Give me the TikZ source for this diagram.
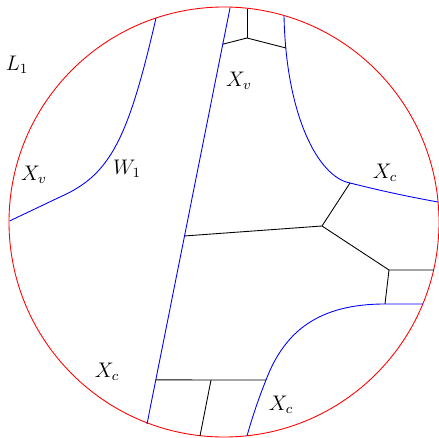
\documentclass[tikz,border=0pt]{standalone}
\usepackage{amsmath}
\usepackage{tikz}
\usetikzlibrary{calc}
\tikzset{
  rim/.style   = {draw=red, line width=0.5pt},
  wall/.style  = {draw=blue, line width=0.5pt},
  edge/.style  = {draw=black, line width=0.5pt},
  lbl/.style   = {inner sep=1pt, font=\large},
}

\begin{document}
\begin{tikzpicture}[x=0.02cm, y=-0.02cm]
  \useasboundingbox (0,0) rectangle (438,438);

  % boundary circle
  \coordinate (o) at (224,222);
  \draw[rim] (o) circle[radius=215];

  % straight wall
  \coordinate (wt) at (230,8);
  \coordinate (wb) at (147,424);
  \draw[wall] (wt) -- (wb);
  \coordinate (wq1) at ($(wt)!0.087!(wb)$);
  \coordinate (wq2) at ($(wt)!0.548!(wb)$);
  \coordinate (wq3) at ($(wt)!0.894!(wb)$);

  % curved walls
  \coordinate (la) at (156,18);
  \coordinate (lb) at (60,197);
  \coordinate (lc) at (9.5,221);
  \draw[wall] (la) .. controls (128,140) and (110,175) .. (lb) -- (lc);

  \coordinate (ra) at (284,16);
  \coordinate (c1) at (350,183);
  \coordinate (rb) at (438,202);
  \draw[wall] (ra) .. controls (286,115) and (318,177) .. (c1)
                   .. controls (382,191) and (405,196) .. (rb);

  \coordinate (sa) at (423,304);
  \coordinate (c4) at (385,304);
  \coordinate (b2) at (266,380);
  \coordinate (sb) at (247,436);
  \draw[wall] (sa) -- (c4) .. controls (320,304) and (285,330) .. (b2)
                   .. controls (258,400) and (252,418) .. (sb);

  % top cell
  \coordinate (v1) at (247,38);
  \coordinate (v1t) at (247,9);
  \coordinate (v1r) at (286,48);
  \draw[edge] (v1t) -- (v1);
  \draw[edge] (wq1) -- (v1) -- (v1r);

  % middle cells
  \coordinate (c2) at (322,226);
  \coordinate (c3) at (389,270);
  \coordinate (c3r) at (434,270);
  \draw[edge] (c1) -- (c2) -- (wq2);
  \draw[edge] (c2) -- (c3) -- (c3r);
  \draw[edge] (c3) -- (c4);

  % bottom cells
  \coordinate (b3) at (211,380);
  \coordinate (b4) at (200,436);
  \draw[edge] (wq3) -- (b2);
  \draw[edge] (b3) -- (b4);

  % labels
  \node[lbl] (tL) at (17,65) {$L_1$};
  \node[lbl] (tXv1) at (34,175) {$X_v$};
  \node[lbl] (tW) at (127,169) {$W_1$};
  \node[lbl] (tXv2) at (239,81) {$X_v$};
  \node[lbl] (tXc1) at (385,173) {$X_c$};
  \node[lbl] (tXc2) at (107,372) {$X_c$};
  \node[lbl] (tXc3) at (281,405) {$X_c$};
\end{tikzpicture}
\end{document}
